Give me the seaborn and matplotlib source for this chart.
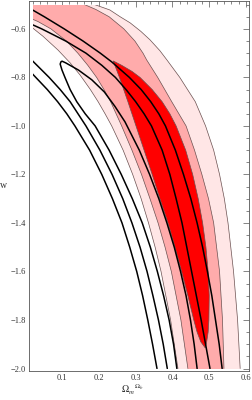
import numpy as np
import matplotlib
matplotlib.use("Agg")
import matplotlib.pyplot as plt
from matplotlib.patches import Rectangle
from matplotlib.ticker import MultipleLocator, FuncFormatter
import seaborn as sns

# ---------------- data ----------------
# red set: 3-sigma (light), 2-sigma (medium), 1-sigma (red) boundaries (Omega_m, w)
R3R_x = [0.16, 0.176, 0.23, 0.258, 0.285, 0.314, 0.339, 0.366, 0.385, 0.42, 0.462, 0.49,
         0.512, 0.528, 0.541, 0.551, 0.566, 0.577, 0.584]
R3R_w = [-0.485, -0.493, -0.522, -0.55, -0.575, -0.61, -0.645, -0.69, -0.728, -0.8, -0.9, -1.0,
         -1.1, -1.2, -1.3, -1.4, -1.6, -1.8, -2.0]
R3L_x = [0.0, 0.02, 0.048, 0.089, 0.122, 0.149, 0.177, 0.198, 0.217, 0.235, 0.266, 0.292,
         0.315, 0.335, 0.353, 0.369, 0.395, 0.415]
R3L_w = [-0.585, -0.596, -0.63, -0.687, -0.74, -0.79, -0.85, -0.9, -0.95, -1.0, -1.1, -1.2,
         -1.3, -1.4, -1.5, -1.6, -1.8, -2.0]

R2R_x = [0.145, 0.157, 0.192, 0.228, 0.268, 0.298, 0.32, 0.33, 0.36, 0.398, 0.437, 0.46,
         0.48, 0.498, 0.512, 0.528, 0.536, 0.54]
R2R_w = [-0.485, -0.497, -0.52, -0.55, -0.6, -0.65, -0.7, -0.728, -0.8, -0.9, -1.0, -1.1,
         -1.2, -1.3, -1.4, -1.6, -1.8, -2.0]
R2L_x = [0.0, 0.02, 0.035, 0.07, 0.112, 0.143, 0.17, 0.194, 0.214, 0.232, 0.262, 0.29,
         0.316, 0.339, 0.361, 0.38, 0.397, 0.423, 0.442]
R2L_w = [-0.55, -0.56, -0.57, -0.6, -0.65, -0.7, -0.75, -0.8, -0.85, -0.9, -1.0, -1.1,
         -1.2, -1.3, -1.4, -1.5, -1.6, -1.8, -2.0]

R1L_x = [0.239, 0.256, 0.279, 0.301, 0.323, 0.345, 0.366, 0.388, 0.407, 0.425, 0.442, 0.458,
         0.467, 0.477, 0.489]
R1L_w = [-0.732, -0.8, -0.9, -1.0, -1.1, -1.2, -1.3, -1.4, -1.5, -1.6, -1.7, -1.8,
         -1.85, -1.89, -1.915]
R1R_x = [0.239, 0.262, 0.29, 0.312, 0.345, 0.372, 0.393, 0.41, 0.436, 0.455, 0.47, 0.482,
         0.491, 0.497, 0.5, 0.499, 0.497, 0.493, 0.489]
R1R_w = [-0.732, -0.75, -0.775, -0.8, -0.85, -0.9, -0.95, -1.0, -1.1, -1.2, -1.3, -1.4,
         -1.5, -1.6, -1.7, -1.8, -1.85, -1.89, -1.915]

# black set: contour lines
B3L_x = [0.0, 0.02, 0.06, 0.088, 0.113, 0.135, 0.175, 0.208, 0.237, 0.263, 0.284, 0.303,
         0.319, 0.333, 0.346, 0.358]
B3L_w = [-0.772, -0.786, -0.85, -0.9, -0.95, -1.0, -1.1, -1.2, -1.3, -1.4, -1.5, -1.6,
         -1.7, -1.8, -1.9, -2.0]
B2L_x = [0.0, 0.02, 0.065, 0.095, 0.122, 0.165, 0.203, 0.236, 0.265, 0.29, 0.312, 0.331,
         0.347, 0.362, 0.375, 0.386]
B2L_w = [-0.718, -0.732, -0.8, -0.85, -0.9, -1.0, -1.1, -1.2, -1.3, -1.4, -1.5, -1.6,
         -1.7, -1.8, -1.9, -2.0]
B1L_x = [0.097, 0.095, 0.1, 0.108, 0.122, 0.14, 0.163, 0.19, 0.228, 0.261, 0.291, 0.318,
         0.34, 0.359, 0.376, 0.391, 0.403, 0.412]
B1L_w = [-0.736, -0.745, -0.77, -0.8, -0.85, -0.9, -0.95, -1.0, -1.1, -1.2, -1.3, -1.4,
         -1.5, -1.6, -1.7, -1.8, -1.9, -2.0]
B1R_x = [0.097, 0.1, 0.11, 0.145, 0.181, 0.215, 0.244, 0.271, 0.31, 0.338, 0.363, 0.385,
         0.405, 0.422, 0.437, 0.449, 0.459, 0.467]
B1R_w = [-0.736, -0.733, -0.74, -0.77, -0.81, -0.86, -0.92, -0.983, -1.1, -1.2, -1.3, -1.4,
         -1.5, -1.6, -1.7, -1.8, -1.9, -2.0]
B2R_x = [0.0, 0.02, 0.045, 0.11, 0.165, 0.208, 0.245, 0.275, 0.3, 0.323, 0.343, 0.372,
         0.393, 0.41, 0.426, 0.439, 0.452, 0.465, 0.478, 0.49, 0.502]
B2R_w = [-0.57, -0.583, -0.6, -0.65, -0.7, -0.75, -0.8, -0.852, -0.9, -0.95, -1.0, -1.1,
         -1.2, -1.3, -1.4, -1.5, -1.6, -1.7, -1.8, -1.9, -2.0]
B3R_x = [0.0, 0.02, 0.052, 0.106, 0.157, 0.204, 0.235, 0.283, 0.315, 0.341, 0.363, 0.381,
         0.408, 0.43, 0.45, 0.467, 0.482, 0.495, 0.507, 0.517, 0.527, 0.535]
B3R_w = [-0.505, -0.522, -0.55, -0.6, -0.65, -0.7, -0.736, -0.8, -0.85, -0.9, -0.95, -1.0,
         -1.1, -1.2, -1.3, -1.4, -1.5, -1.6, -1.7, -1.8, -1.9, -2.0]

# ---------------- figure ----------------
sns.set_theme(style="white")
plt.rcParams['font.family'] = ['Liberation Serif', 'DejaVu Serif']
plt.rcParams['mathtext.fontset'] = 'stix'

fig = plt.figure(figsize=(2.53, 4.0), dpi=100)
ax = fig.add_axes([29 / 253, 1 - 371 / 400, 220 / 253, 370 / 400])
ax.set_xlim(0.0103, 0.608)
ax.set_ylim(-2.0103, -0.485)

clip = Rectangle((0.02, -2.0), 0.58, 1.5, transform=ax.transData, fill=False, visible=False)
ax.add_patch(clip)

LIGHT = '#ffe6e6'
MED = '#ffabab'
RED = '#ff0000'
EDGE = '#6a5050'


def band(xr, wr, xl, wl, color):
    xs = list(xr) + [xr[-1], xl[-1]] + list(xl)[::-1] + [-0.2, -0.2, xr[0]]
    ws = list(wr) + [-2.3, -2.3] + list(wl)[::-1] + [wl[0], -0.2, -0.2]
    p = ax.fill(xs, ws, facecolor=color, edgecolor='none', zorder=1)[0]
    p.set_clip_path(clip)
    for xx, ww in ((xr, wr), (xl, wl)):
        ln, = ax.plot(xx, ww, color=EDGE, lw=0.5, zorder=2)
        ln.set_clip_path(clip)


band(R3R_x, R3R_w, R3L_x, R3L_w, LIGHT)
band(R2R_x, R2R_w, R2L_x, R2L_w, MED)

p = ax.fill(list(R1L_x) + list(R1R_x)[::-1], list(R1L_w) + list(R1R_w)[::-1],
            facecolor=RED, edgecolor=EDGE, lw=0.5, zorder=3)[0]
p.set_clip_path(clip)

# black contour lines
for xx, ww in ((B3L_x, B3L_w), (B2L_x, B2L_w), (B2R_x, B2R_w), (B3R_x, B3R_w),
               (list(B1L_x)[::-1] + list(B1R_x), list(B1L_w)[::-1] + list(B1R_w))):
    sns.lineplot(x=xx, y=ww, sort=False, estimator=None, color='black', lw=1.1, ax=ax, zorder=4)
for ln in ax.lines:
    ln.set_clip_path(clip)

# axes styling (Mathematica frame)
for s in ax.spines.values():
    s.set_color('#555555')
    s.set_linewidth(0.6)
ax.xaxis.set_major_locator(MultipleLocator(0.1))
ax.xaxis.set_minor_locator(MultipleLocator(0.02))
ax.yaxis.set_major_locator(MultipleLocator(0.2))
ax.yaxis.set_minor_locator(MultipleLocator(0.05))
ax.xaxis.set_major_formatter(FuncFormatter(lambda v, p: f"{v:.1f}"))
ax.yaxis.set_major_formatter(FuncFormatter(lambda v, p: f"{v:.1f}".replace('-', '\u2212')))
ax.tick_params(which='both', direction='in', top=True, right=True, color='#555555',
               labelsize=6, labelcolor='#333333', pad=2)
ax.tick_params(which='major', length=4, width=0.5)
ax.tick_params(which='minor', length=2, width=0.5)

ax.set_xlabel(r'$\Omega_m{}^{\Omega_b}$', fontsize=7, color='#333333', va='center')
ax.xaxis.set_label_coords(0.47, -0.05)
ax.set_ylabel('w', fontsize=7, color='#333333', rotation=0)
ax.yaxis.set_label_coords(-0.115, 0.49)

fig.savefig('out.png', dpi=100)
